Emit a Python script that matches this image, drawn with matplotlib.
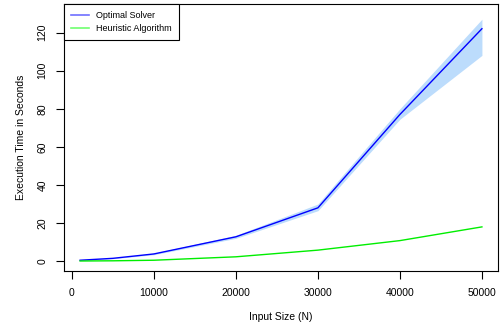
import numpy as np
import matplotlib
matplotlib.use('Agg')
import matplotlib.pyplot as plt
from matplotlib.lines import Line2D

plt.rcParams['font.family'] = ['Liberation Sans', 'DejaVu Sans']

# data
input_size = [1000, 5000, 10000, 20000, 30000, 40000, 50000]
optimal = [0.5, 1.5, 3.8, 12.8, 28.0, 77.0, 122.0]
optimal_lo = [0.4, 1.3, 3.4, 12.0, 26.5, 74.5, 108.0]
optimal_hi = [0.6, 1.7, 4.2, 13.6, 30.0, 80.0, 127.0]
heuristic = [0.1, 0.2, 0.5, 2.3, 5.8, 10.8, 18.0]

fig = plt.figure(figsize=(5, 3.29), dpi=100)
ax = fig.add_axes([0.128, 0.176, 0.868, 0.812])

ax.fill_between(input_size, optimal_lo, optimal_hi, color='#bcdcfc', lw=0)
ax.plot(input_size, optimal, color='#0000ff', lw=1)
ax.plot(input_size, heuristic, color='#00ee00', lw=1)

ax.set_xlim(-960, 51960)
ax.set_ylim(-5.2, 135)
ax.set_xticks([0, 10000, 20000, 30000, 40000, 50000])
ax.set_yticks([0, 20, 40, 60, 80, 100, 120])
ax.tick_params(direction='out', length=6, width=0.8, labelsize=7.5, pad=6)
plt.setp(ax.get_yticklabels(), rotation=90, va='center')
for s in ax.spines.values():
    s.set_linewidth(0.8)

ax.set_xlabel('Input Size (N)', fontsize=7.5, labelpad=10)
ax.set_ylabel('Execution Time in Seconds', fontsize=7.5, labelpad=8)

handles = [Line2D([], [], color='#7070ff', lw=1.2),
           Line2D([], [], color='#70ff70', lw=1.2)]
leg = ax.legend(handles, ['Optimal Solver', 'Heuristic Algorithm'],
                loc='upper left', bbox_to_anchor=(0, 1), fontsize=6.5,
                fancybox=False, framealpha=1, edgecolor='black',
                borderaxespad=0, handlelength=2.0, handletextpad=0.8,
                labelspacing=0.45, borderpad=0.8)
leg.get_frame().set_linewidth(0.8)

fig.savefig('out.png', dpi=100)
